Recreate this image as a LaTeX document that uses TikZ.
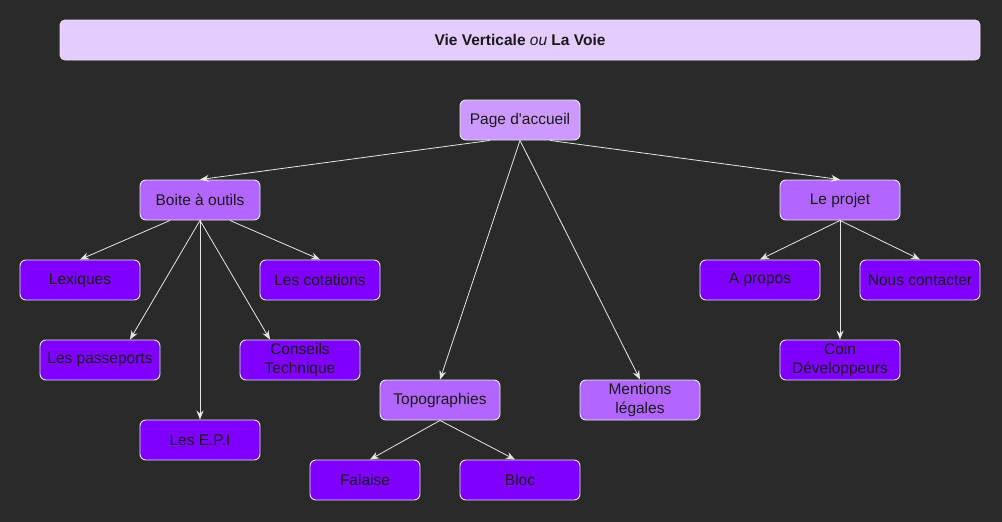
\documentclass[tikz,border=0pt]{standalone}
\usepackage{fontspec}
\setmainfont{Liberation Sans}
\usetikzlibrary{arrows.meta}
\definecolor{bg}{HTML}{2A2A2A}
\definecolor{titlefill}{HTML}{E5CCFF}
\definecolor{rootfill}{HTML}{CC99FF}
\definecolor{midfill}{HTML}{B266FF}
\definecolor{leaffill}{HTML}{7F00FF}
\definecolor{edgecol}{HTML}{E6E6E6}
\definecolor{txt}{HTML}{1A1A1A}
\tikzset{
  box/.style={draw=edgecol, line width=0.9pt, rounded corners=6pt, minimum width=120pt, minimum height=40pt, inner sep=2pt, align=center, text=txt, font=\fontsize{15.5}{19.5}\selectfont},
  rootbox/.style={box, fill=rootfill},
  midbox/.style={box, fill=midfill},
  leafbox/.style={box, fill=leaffill},
  conn/.style={draw=edgecol, line width=0.8pt, -{Stealth[length=9pt,width=7pt,inset=3pt]}}
}
\begin{document}
\begin{tikzpicture}[x=1pt,y=-1pt]
\fill[bg] (0,0) rectangle (1002,522);
\useasboundingbox (0,0) rectangle (1002,522);
\node[box, fill=titlefill, minimum width=920pt, rounded corners=5pt] (title) at (520,40) {\textbf{Vie Verticale} \textit{ou} \textbf{La Voie}};
\node[rootbox] (page) at (520,120) {Page d\textquotesingle accueil};
\node[midbox] (boite) at (200,200) {Boite à outils};
\node[midbox] (projet) at (840,200) {Le projet};
\node[leafbox] (lex) at (80,280) {Lexiques};
\node[leafbox] (cot) at (320,280) {Les cotations};
\node[leafbox] (pass) at (100,360) {Les passeports};
\node[leafbox] (cons) at (300,360) {Conseils\\Technique};
\node[leafbox] (epi) at (200,440) {Les E.P.I};
\node[midbox] (topo) at (440,400) {Topographies};
\node[midbox] (ment) at (640,400) {Mentions\\légales};
\node[leafbox, minimum width=110pt] (fal) at (365,480) {Falaise};
\node[leafbox] (bloc) at (520,480) {Bloc};
\node[leafbox] (apropos) at (760,280) {A propos};
\node[leafbox] (nous) at (920,280) {Nous contacter};
\node[leafbox] (coin) at (840,360) {Coin\\Développeurs};
\path[conn] ([xshift=-30pt]page.south) -- (boite.north);
\path[conn] (page.south) -- (topo.north);
\path[conn] (page.south) -- (ment.north);
\path[conn] ([xshift=30pt]page.south) -- (projet.north);
\path[conn] ([xshift=-30pt]boite.south) -- (lex.north);
\path[conn] (boite.south) -- ([xshift=30pt]pass.north);
\path[conn] (boite.south) -- (epi.north);
\path[conn] (boite.south) -- ([xshift=-30pt]cons.north);
\path[conn] ([xshift=30pt]boite.south) -- (cot.north);
\path[conn] (projet.south) -- (apropos.north);
\path[conn] (projet.south) -- (nous.north);
\path[conn] (projet.south) -- (coin.north);
\path[conn] (topo.south) -- ([xshift=5pt]fal.north);
\path[conn] (topo.south) -- ([xshift=-5pt]bloc.north);
\end{tikzpicture}
\end{document}
